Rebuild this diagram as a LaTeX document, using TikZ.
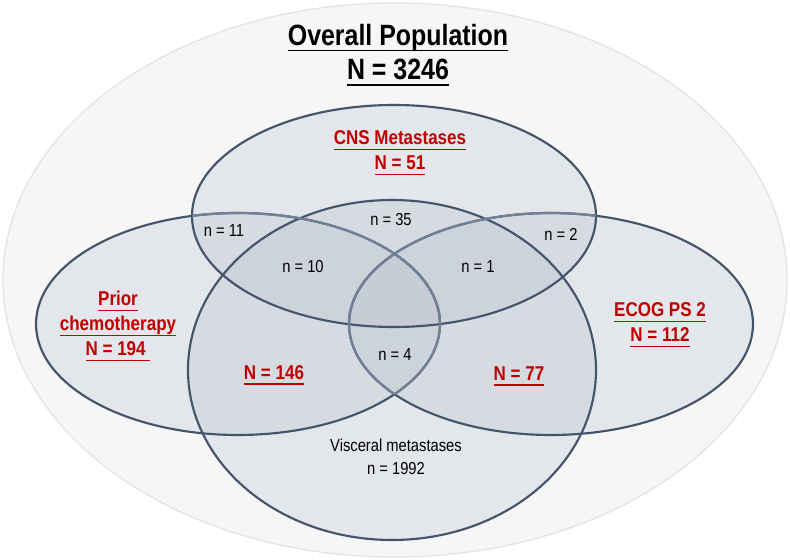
\documentclass[tikz,border=0pt]{standalone}
\usepackage{fontspec}
\setmainfont{Liberation Sans}[FakeStretch=0.85]
\usetikzlibrary{positioning}
\definecolor{vennline}{RGB}{68,84,106}
\definecolor{vennsoft}{RGB}{112,128,150}
\definecolor{vennfill}{RGB}{185,194,207}
\definecolor{vennred}{RGB}{192,0,0}
\definecolor{popfill}{RGB}{246,246,246}
\definecolor{popline}{RGB}{228,228,228}
% underlined labels, rule at a fixed depth
\newcommand{\ulred}[1]{\setbox0=\hbox{#1}\rlap{\rule[-4.2pt]{\wd0}{1.1pt}}\box0}
\newcommand{\ultitle}[1]{\setbox0=\hbox{#1}\rlap{\rule[-4.8pt]{\wd0}{1.4pt}}\box0}
% the four sets
\newcommand{\priorset}{(238,324) ellipse [x radius=151.5pt,y radius=83.25pt]}
\newcommand{\ecogset}{(551,324) ellipse [x radius=151.5pt,y radius=83.25pt]}
\newcommand{\viscset}{(392,370) ellipse [x radius=153pt,y radius=127.5pt]}
\newcommand{\cnsset}{(394,216) ellipse [x radius=151.5pt,y radius=83.25pt]}

\begin{document}
\begin{tikzpicture}[x=0.75pt,y=-0.75pt,
    venn/.style={fill=vennfill,fill opacity=0.3},
    vennedge/.style={draw=vennline,line width=1.6pt},
    softedge/.style={draw=vennsoft,line width=1.7pt},
    grouplbl/.style={text=vennred,align=center,font=\bfseries\fontsize{15}{18.75}\selectfont},
    countlbl/.style={text=black,align=center,font=\fontsize{13}{17}\selectfont},
    titlelbl/.style={text=black,align=center,font=\bfseries\fontsize{22}{26}\selectfont}]
  \useasboundingbox (0,0) rectangle (790,560);
  % overall population
  \draw[fill=popfill,draw=popline,line width=1pt] (395,280) ellipse [x radius=294pt,y radius=207.75pt];
  % fills first, then outlines
  \fill[venn] \priorset;
  \fill[venn] \ecogset;
  \fill[venn] \viscset;
  \fill[venn] \cnsset;
  \draw[vennedge] \priorset;
  \draw[vennedge] \ecogset;
  \draw[vennedge] \viscset;
  \draw[vennedge] \cnsset;
  % lighter arcs where prior and ecog run inside other sets
  \begin{scope}
    \clip \ecogset;
    \draw[softedge] \priorset;
  \end{scope}
  \begin{scope}
    \clip \priorset;
    \draw[softedge] \ecogset;
  \end{scope}
  \begin{scope}
    \clip \cnsset;
    \draw[softedge] \priorset;
    \draw[softedge] \ecogset;
  \end{scope}

  \node[titlelbl] (poptitle) at (398,55) {\ultitle{Overall Population}\\\ultitle{N = 3246}};
  \node[grouplbl] (cns) at (400,153) {\ulred{CNS Metastases}\\\ulred{N = 51}};
  \node[grouplbl] (prior) at (118,326) {\ulred{Prior}\\\ulred{chemotherapy}\\\ulred{N = 194\ }};
  \node[grouplbl] (ecog) at (660,325) {\ulred{ECOG PS 2}\\\ulred{N = 112}};
  \node[grouplbl] (priorvisc) at (274,375) {\ulred{N = 146}};
  \node[grouplbl] (ecogvisc) at (519,376) {\ulred{N = 77}};

  \node[countlbl] (n35) at (391,220) {n = 35};
  \node[countlbl] (n11) at (224,231) {n = 11};
  \node[countlbl] (n2) at (561,234) {n = 2};
  \node[countlbl] (n10) at (303,267) {n = 10};
  \node[countlbl] (n1) at (478,267) {n = 1};
  \node[countlbl] (n4) at (395,355) {n = 4};
  \node[countlbl] (visc) at (396,457) {Visceral metastases\\n = 1992};
\end{tikzpicture}
\end{document}
